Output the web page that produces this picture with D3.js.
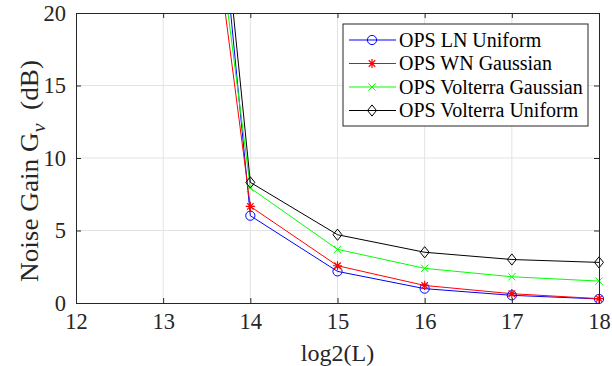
<!DOCTYPE html>
<html>
<head>
<meta charset="utf-8">
<script src="https://cdn.jsdelivr.net/npm/d3@7"></script>
<style>
  body { margin: 0; background: #fff; }
  svg text { font-family: "Liberation Serif", "Times New Roman", Times, serif !important; }
</style>
</head>
<body>
<div id="chart"></div>
<script>
// log2(L) values
let xValues = [13, 14, 15, 16, 17, 18];

// noise gain in dB for each method
let lnUniform = [68.1, 6.02, 2.18, 0.99, 0.53, 0.28];
let wnGaussian = [53.1, 6.66, 2.57, 1.21, 0.64, 0.30];
let volterraGaussian = [55.1, 7.93, 3.70, 2.39, 1.81, 1.51];
let volterraUniform = [68.2, 8.32, 4.71, 3.50, 3.00, 2.80];

let seriesNames = ["OPS LN Uniform", "OPS WN Gaussian", "OPS Volterra Gaussian", "OPS Volterra Uniform"];
let seriesColors = ["#0000ff", "#ff0000", "#00ff00", "#000000"];
let seriesMarkers = ["circle", "star", "cross", "diamond"];

let xTicks = [12, 13, 14, 15, 16, 17, 18];
let yTicks = [0, 5, 10, 15, 20];

let series = [lnUniform, wnGaussian, volterraGaussian, volterraUniform].map((vals, i) => ({
  name: seriesNames[i],
  color: seriesColors[i],
  marker: seriesMarkers[i],
  points: vals.map((v, j) => ({ x: xValues[j], y: v }))
}));

let width = 612, height = 366;
let margin = { left: 76, right: 13, top: 13, bottom: 63 };
let serif = "'Liberation Serif', 'Times New Roman', serif";

let svg = d3.select("#chart").append("svg")
  .attr("width", width)
  .attr("height", height)
  .attr("font-family", serif);

let x = d3.scaleLinear().domain([12, 18]).range([margin.left, width - margin.right]);
let y = d3.scaleLinear().domain([0, 20]).range([height - margin.bottom, margin.top]);

let axisColor = "#262626";
let gridColor = "#e3e3e3";

// grid lines
svg.append("g").selectAll("line")
  .data(xTicks.slice(1, -1))
  .enter().append("line")
  .attr("x1", d => x(d)).attr("x2", d => x(d))
  .attr("y1", y(0)).attr("y2", y(20))
  .attr("stroke", gridColor).attr("stroke-width", 1);

svg.append("g").selectAll("line")
  .data(yTicks.slice(1, -1))
  .enter().append("line")
  .attr("x1", x(12)).attr("x2", x(18))
  .attr("y1", d => y(d)).attr("y2", d => y(d))
  .attr("stroke", gridColor).attr("stroke-width", 1);

// clip for data
svg.append("clipPath").attr("id", "plotclip")
  .append("rect")
  .attr("x", x(12)).attr("y", y(20))
  .attr("width", x(18) - x(12)).attr("height", y(0) - y(20));

let line = d3.line().x(d => x(d.x)).y(d => y(d.y));

let plot = svg.append("g");

function drawMarker(g, type, color) {
  if (type === "circle") {
    g.append("circle").attr("r", 4.6).attr("fill", "none").attr("stroke", color).attr("stroke-width", 1);
  } else if (type === "star") {
    let r = 4.6;
    let p = "";
    for (let k = 0; k < 4; k++) {
      let a = k * Math.PI / 4;
      p += `M${-r * Math.cos(a)},${-r * Math.sin(a)}L${r * Math.cos(a)},${r * Math.sin(a)}`;
    }
    g.append("path").attr("d", p).attr("stroke", color).attr("stroke-width", 1.2).attr("fill", "none");
  } else if (type === "cross") {
    let r = 3.6;
    g.append("path").attr("d", `M${-r},${-r}L${r},${r}M${-r},${r}L${r},${-r}`)
      .attr("stroke", color).attr("stroke-width", 1).attr("fill", "none");
  } else if (type === "diamond") {
    let r = 5.6;
    g.append("path").attr("d", `M0,${-r}L${r * 0.8},0L0,${r}L${-r * 0.8},0Z`)
      .attr("stroke", color).attr("stroke-width", 1).attr("fill", "none");
  }
}

series.forEach(s => {
  plot.append("path")
    .datum(s.points)
    .attr("clip-path", "url(#plotclip)")
    .attr("d", line)
    .attr("fill", "none")
    .attr("stroke", s.color)
    .attr("stroke-width", 1);

  s.points.filter(p => p.y <= 20).forEach(p => {
    let g = plot.append("g").attr("transform", `translate(${x(p.x)},${y(p.y)})`);
    drawMarker(g, s.marker, s.color);
  });
});

// axes (box style, ticks inward)
let xAxisB = d3.axisBottom(x).tickValues(xTicks).tickSize(-5).tickPadding(10).tickFormat(d3.format("d"));
let xAxisT = d3.axisTop(x).tickValues(xTicks).tickSize(-5).tickFormat("");
let yAxisL = d3.axisLeft(y).tickValues(yTicks).tickSize(-5).tickPadding(10).tickFormat(d3.format("d"));
let yAxisR = d3.axisRight(y).tickValues(yTicks).tickSize(-5).tickFormat("");

function styleAxis(g) {
  g.attr("font-family", serif);
  g.select(".domain").attr("stroke", axisColor).attr("stroke-width", 1);
  g.selectAll(".tick line").attr("stroke", axisColor);
  g.selectAll(".tick text").attr("fill", axisColor).attr("font-size", 22.5);
}

svg.append("g").attr("transform", `translate(0,${y(0)})`).call(xAxisB).call(styleAxis);
svg.append("g").attr("transform", `translate(0,${y(20)})`).call(xAxisT).call(styleAxis);
svg.append("g").attr("transform", `translate(${x(12)},0)`).call(yAxisL).call(styleAxis);
svg.append("g").attr("transform", `translate(${x(18)},0)`).call(yAxisR).call(styleAxis);

// axis labels
svg.append("text")
  .attr("x", (x(12) + x(18)) / 2)
  .attr("y", 361)
  .attr("text-anchor", "middle")
  .attr("font-size", 24)
  .attr("fill", axisColor)
  .text("log2(L)");

// y label: stretched along its length to match the reference span
let yl = svg.append("text")
  .attr("text-anchor", "middle")
  .attr("font-size", 26)
  .attr("fill", axisColor);
yl.append("tspan").text("Noise Gain G");
yl.append("tspan").attr("dy", 7).attr("font-size", 19).attr("font-style", "italic").text("\u03bd");
yl.append("tspan").attr("dy", -7).text("\u2002(dB)");
let ylw = yl.node().getComputedTextLength();
let ylScale = 222 / ylw;
yl.attr("transform", `translate(38,171) rotate(-90) scale(${ylScale},1)`);

// legend
let lx = 343, ly = 24, lw = 245, lh = 102;
let legend = svg.append("g");
legend.append("rect")
  .attr("x", lx).attr("y", ly).attr("width", lw).attr("height", lh)
  .attr("fill", "#fff").attr("stroke", axisColor).attr("stroke-width", 1);

series.forEach((s, i) => {
  let cy = ly + 16 + i * 23.5;
  legend.append("line")
    .attr("x1", lx + 6).attr("x2", lx + 53)
    .attr("y1", cy).attr("y2", cy)
    .attr("stroke", s.color).attr("stroke-width", 1);
  let g = legend.append("g").attr("transform", `translate(${lx + 29},${cy})`);
  drawMarker(g, s.marker, s.color);
  legend.append("text")
    .attr("x", lx + 56).attr("y", cy + 6.5)
    .attr("font-size", 20)
    .attr("fill", "#000")
    .text(s.name);
});
</script>
</body>
</html>
